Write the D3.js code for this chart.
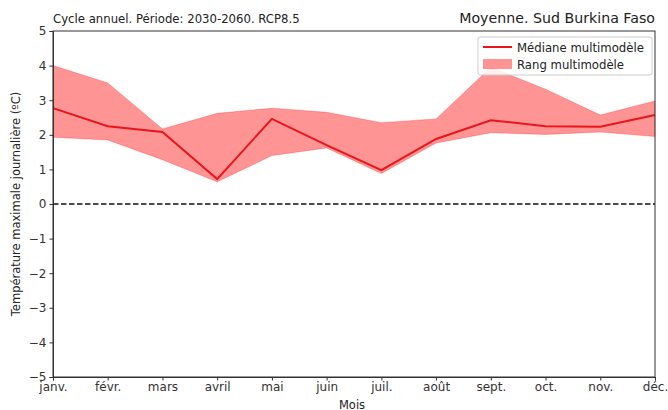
<!DOCTYPE html>
<html>
<head>
<meta charset="utf-8">
<script src="https://cdnjs.cloudflare.com/ajax/libs/d3/7.8.5/d3.min.js"></script>
<style>
  body { margin: 0; background: #fff; }
  svg { font-family: "DejaVu Sans", sans-serif; display: block; }
</style>
</head>
<body>
<div id="chart"></div>
<script>
// month labels on the x axis
var months = ["janv.", "févr.", "mars", "avril", "mai", "juin", "juil.", "août", "sept.", "oct.", "nov.", "déc."];
// multimodel median
var medianValues = [2.77, 2.25, 2.08, 0.72, 2.46, 1.7, 0.98, 1.88, 2.42, 2.25, 2.23, 2.57];
// multimodel range (min / max)
var rangeLow  = [1.93, 1.85, 1.28, 0.64, 1.4, 1.62, 0.88, 1.76, 2.06, 2.01, 2.08, 1.95];
var rangeHigh = [4.0, 3.5, 2.17, 2.62, 2.77, 2.65, 2.35, 2.46, 3.95, 3.32, 2.57, 2.98];
var yTicks = [-5, -4, -3, -2, -1, 0, 1, 2, 3, 4, 5];

var width = 668, height = 410;
var margin = { left: 53, top: 31, right: 13, bottom: 33 };
var innerWidth = width - margin.left - margin.right;
var innerHeight = height - margin.top - margin.bottom;

var svg = d3.select("#chart").append("svg")
    .attr("width", width)
    .attr("height", height);

var g = svg.append("g")
    .attr("transform", "translate(" + margin.left + "," + margin.top + ")");

var x = d3.scalePoint().domain(months).range([0, innerWidth]);
var y = d3.scaleLinear().domain([-5, 5]).range([innerHeight, 0]);

// range band
var area = d3.area()
    .x(function (d, i) { return x(months[i]); })
    .y0(function (d, i) { return y(rangeLow[i]); })
    .y1(function (d, i) { return y(rangeHigh[i]); });

g.append("path")
    .datum(rangeHigh)
    .attr("d", area)
    .attr("fill", "#ff0000")
    .attr("fill-opacity", 0.42)
    .attr("stroke", "#ff0000")
    .attr("stroke-opacity", 0.25)
    .attr("stroke-width", 1);

// zero line
g.append("line")
    .attr("x1", 0).attr("x2", innerWidth)
    .attr("y1", y(0)).attr("y2", y(0))
    .attr("stroke", "#111")
    .attr("stroke-width", 1.5)
    .attr("stroke-dasharray", "5.5,2.5");

// median
var line = d3.line()
    .x(function (d, i) { return x(months[i]); })
    .y(function (d) { return y(d); });

g.append("path")
    .datum(medianValues)
    .attr("d", line)
    .attr("fill", "none")
    .attr("stroke", "#e8161b")
    .attr("stroke-width", 2);

// axes
var xAxis = g.append("g")
    .attr("transform", "translate(0," + innerHeight + ")")
    .call(d3.axisBottom(x).tickSizeOuter(0).tickSize(3.5).tickPadding(2));
var yAxis = g.append("g")
    .call(d3.axisLeft(y).tickValues(yTicks).tickSizeOuter(0).tickSize(3.5).tickPadding(3)
        .tickFormat(function (d) { return d < 0 ? "\u2212" + Math.abs(d) : d; }));

[xAxis, yAxis].forEach(function (a) {
    a.selectAll("text").attr("font-size", 12).attr("fill", "#333")
        .attr("font-family", "DejaVu Sans, sans-serif");
    a.selectAll("line").attr("stroke", "#333");
    a.select(".domain").attr("stroke", "#333");
});

// frame
g.append("rect")
    .attr("width", innerWidth).attr("height", innerHeight)
    .attr("fill", "none").attr("stroke", "#333").attr("stroke-width", 1);

// titles
svg.append("text")
    .attr("x", margin.left).attr("y", 23)
    .attr("font-size", 11.7).attr("fill", "#222")
    .text("Cycle annuel. Période: 2030-2060. RCP8.5");

svg.append("text")
    .attr("x", margin.left + innerWidth).attr("y", 23)
    .attr("text-anchor", "end")
    .attr("font-size", 14.2).attr("fill", "#222")
    .text("Moyenne. Sud Burkina Faso");

svg.append("text")
    .attr("transform", "translate(20," + (margin.top + innerHeight / 2) + ") rotate(-90)")
    .attr("text-anchor", "middle")
    .attr("font-size", 11.5).attr("fill", "#222")
    .text("Température maximale journalière (ºC)");

svg.append("text")
    .attr("x", margin.left + innerWidth / 2 - 2).attr("y", 409)
    .attr("text-anchor", "middle")
    .attr("font-size", 11.5).attr("fill", "#222")
    .text("Mois");

// legend
var legend = g.append("g")
    .attr("transform", "translate(" + (innerWidth - 177) + ",6)");

legend.append("rect")
    .attr("width", 174).attr("height", 38).attr("rx", 2)
    .attr("fill", "#fff").attr("fill-opacity", 0.85)
    .attr("stroke", "#ccc");

legend.append("line")
    .attr("x1", 5).attr("x2", 34).attr("y1", 10).attr("y2", 10)
    .attr("stroke", "#e8161b").attr("stroke-width", 2);
legend.append("rect")
    .attr("x", 5).attr("y", 22).attr("width", 29).attr("height", 10)
    .attr("fill", "#ff0000").attr("fill-opacity", 0.42);

legend.append("text").attr("x", 39).attr("y", 14.5)
    .attr("font-size", 11.7).attr("fill", "#222").text("Médiane multimodèle");
legend.append("text").attr("x", 39).attr("y", 32)
    .attr("font-size", 11.7).attr("fill", "#222").text("Rang multimodèle");
</script>
</body>
</html>
